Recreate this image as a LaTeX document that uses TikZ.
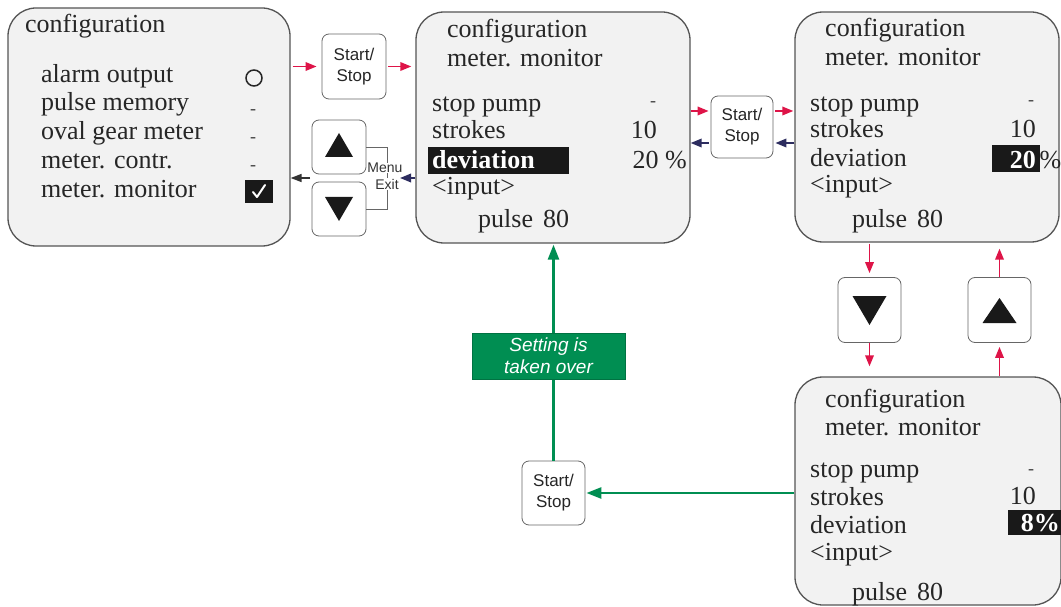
\documentclass[tikz,border=0pt]{standalone}
\usepackage{fontspec}
\setmainfont{Liberation Serif}
\setsansfont{Liberation Sans}
\usetikzlibrary{arrows.meta,calc}
\definecolor{crim}{RGB}{222,20,72}
\definecolor{navy}{RGB}{45,45,95}
\definecolor{grn}{RGB}{0,142,82}
\definecolor{scrfill}{RGB}{242,242,242}
\definecolor{scrline}{RGB}{85,85,85}
\newcommand{\lcdfont}{\rmfamily\fontsize{26}{29}\selectfont}
\newcommand{\keyfont}{\sffamily\fontsize{17}{21}\selectfont}
\tikzset{
  screen/.style={draw=scrline, fill=scrfill, line width=1.3pt, rounded corners=28pt, inner sep=0pt},
  keybox/.style={draw=black!60, fill=white, line width=0.8pt, rounded corners=7pt, inner sep=0pt, align=center, font=\keyfont, text=black!85},
  lcd/.style={anchor=base west, inner sep=0pt, font=\lcdfont, text=black!85},
  lcdr/.style={anchor=base east, inner sep=0pt, font=\lcdfont, text=black!85},
  dashmark/.style={anchor=center, inner sep=0pt, font=\rmfamily\fontsize{18}{18}\selectfont, text=black!75},
  hilite/.style={fill=black!90, inner sep=0pt, anchor=north west},
  redarr/.style={draw=crim, line width=1.8pt, -{Triangle[length=11pt,width=8.5pt]}},
  bluarr/.style={draw=navy, line width=1.8pt, -{Triangle[length=11pt,width=8.5pt]}},
  blkarr/.style={draw=black!80, line width=1.6pt, -{Triangle[length=11pt,width=8pt]}},
  grnarr/.style={draw=grn, line width=2.6pt, -{Triangle[length=15pt,width=11pt]}},
  smalltxt/.style={font=\sffamily\fontsize{14}{16}\selectfont, text=black!80, fill=white, inner sep=0.5pt}
}
\begin{document}
\begin{tikzpicture}[x=1pt,y=-1pt]
\useasboundingbox (0,0) rectangle (1061,607);
\clip (0,0) rectangle (1061,607);
\fill[white] (0,0) rectangle (1061,607);

% ---------- screens ----------
\node[screen, minimum width=282pt, minimum height=238pt] (s1) at (149,127) {};
\node[screen, minimum width=274pt, minimum height=231pt] (s2) at (553,127.5) {};
\node[screen, minimum width=264pt, minimum height=230pt] (s3) at (927,127) {};
\node[screen, minimum width=266pt, minimum height=228pt] (s4) at (928,491) {};

% ---------- keys ----------
\node[keybox, minimum width=64pt, minimum height=65pt] (b1) at (354,66.5) {Start/\\Stop};
\node[keybox, minimum width=54pt, minimum height=54pt] (bu1) at (339,147) {};
\node[keybox, minimum width=54pt, minimum height=54pt] (bd1) at (339,209) {};
\node[keybox, minimum width=62pt, minimum height=62pt] (b2) at (742,127) {Start/\\Stop};
\node[keybox, minimum width=63pt, minimum height=65pt] (bd2) at (869.5,310) {};
\node[keybox, minimum width=63pt, minimum height=65pt] (bu2) at (999.5,310) {};
\node[keybox, minimum width=63pt, minimum height=64pt] (b3) at (553.5,493) {Start/\\Stop};

% triangles
\fill[black!90] (bu1.center) ++(-14,10) -- ++(28,0) -- ++(-14,-24) -- cycle;
\fill[black!90] (bd1.center) ++(-14,-12) -- ++(28,0) -- ++(-14,24) -- cycle;
\fill[black!90] (bd2.center) ++(-17,-14) -- ++(34,0) -- ++(-17,29) -- cycle;
\fill[black!90] (bu2.center) ++(-17,13) -- ++(34,0) -- ++(-17,-25) -- cycle;

% ---------- screen 1 ----------
\node[lcd] (c1) at (25,33) {configuration};
\node[lcd] (a1) at (41,83) {alarm output};
\node[lcd] (a2) at (41,111) {pulse memory};
\node[lcd] (a3) at (41,140) {oval gear meter};
\node[lcd] (a4) at (41,168) {meter. contr.};
\node[lcd] (a5) at (41,197) {meter. monitor};
\draw[black!85, line width=1.5pt] (254,78) circle (8);
\node[dashmark] (d1) at (253,112) {-};
\node[dashmark] (d2) at (253,140) {-};
\node[dashmark] (d3) at (253,168) {-};
\node[fill=black!90, minimum width=28pt, minimum height=23pt, inner sep=0pt] (chk) at (259,191.5) {};
\draw[white, line width=2pt, line cap=round, line join=round] (253,192) -- (257,197) -- (265,185);

% ---------- screen 2 ----------
\node[lcd] (c2) at (447,38) {configuration};
\node[lcd] (m2) at (447,67) {meter. monitor};
\node[lcd] (p2) at (432,112) {stop pump};
\node[lcd] (k2) at (432,139) {strokes};
\node[hilite, minimum width=141pt, minimum height=27pt] (h2) at (428,147) {};
\node[lcd, text=white, font=\lcdfont\bfseries] (v2) at (432,168) {deviation};
\node[lcd] (i2) at (432,195) {<input>};
\node[lcd] (q2) at (478,228) {pulse\hspace{10pt}80};
\node[dashmark] (x2) at (653,104) {-};
\node[lcdr] (n2) at (657,139) {10};
\node[lcdr] (r2) at (687,168) {20 \%};

% ---------- screen 3 ----------
\node[lcd] (c3) at (825,37) {configuration};
\node[lcd] (m3) at (825,66) {meter. monitor};
\node[lcd] (p3) at (810,112) {stop pump};
\node[lcd] (k3) at (810,138) {strokes};
\node[lcd] (v3) at (810,167) {deviation};
\node[lcd] (i3) at (810,193) {<input>};
\node[lcd] (q3) at (852,227) {pulse\hspace{10pt}80};
\node[dashmark] (x3) at (1031,103) {-};
\node[lcdr] (n3) at (1036,138) {10};
\node[hilite, minimum width=48pt, minimum height=27pt] (h3) at (992,145) {};
\node[lcdr, text=white, font=\lcdfont\bfseries] (w3) at (1036,168) {20};
\node[lcd] (pc3) at (1039.5,168) {\%};

% ---------- screen 4 ----------
\node[lcd] (c4) at (825,407) {configuration};
\node[lcd] (m4) at (825,435) {meter. monitor};
\node[lcd] (p4) at (810,477) {stop pump};
\node[lcd] (k4) at (810,505) {strokes};
\node[lcd] (v4) at (810,533) {deviation};
\node[lcd] (i4) at (810,560) {<input>};
\node[lcd] (q4) at (852,600) {pulse\hspace{10pt}80};
\node[dashmark] (x4) at (1031,472) {-};
\node[lcdr] (n4) at (1036,504) {10};
\node[hilite, minimum width=55pt, minimum height=25pt] (h4) at (1008,510) {};
\node[lcdr, text=white, font=\lcdfont\bfseries] (w4) at (1060,531) {8\%};

% ---------- Menu/Exit bracket ----------
\coordinate (bt) at (387,147);
\coordinate (bb) at (387,209);
\draw[black!60, line width=0.8pt] (bu1.east) -- (bt) -- (bb) -- (bd1.east);
\node[smalltxt] (menu) at (385,168) {Menu};
\node[smalltxt] (exit) at (387,184) {Exit};

% ---------- arrows ----------
\draw[redarr] ([xshift=2pt]s1.east |- b1.west) -- ([xshift=-5pt]b1.west);
\draw[redarr] ([xshift=2pt]b1.east) -- ([xshift=-4pt]b1.east -| s2.west);
\coordinate (mx) at (400,178);
\draw[bluarr] (s2.west |- mx) -- (mx);
\coordinate (lx) at (310,178);
\draw[blkarr] (lx) -- (s1.east |- lx);

\coordinate (ry) at (0,111);
\coordinate (by) at (0,143);
\draw[redarr] (s2.east |- ry) -- ([xshift=-2pt]b2.west |- ry);
\draw[redarr] ([xshift=2pt]b2.east |- ry) -- ([xshift=-1pt]s3.west |- ry);
\draw[bluarr] ([xshift=-2pt]b2.west |- by) -- (s2.east |- by);
\draw[bluarr] (s3.west |- by) -- ([xshift=2pt]b2.east |- by);

\draw[redarr] ([yshift=-1pt]bd2.north |- s3.south) -- ([yshift=4pt]bd2.north);
\draw[redarr] (bd2.south) -- ([yshift=10pt]bd2.south |- s4.north);
\draw[redarr] (bu2.south |- s4.north) -- ([yshift=-4pt]bu2.south);
\draw[redarr] (bu2.north) -- ([yshift=-6pt]bu2.north |- s3.south);

\draw[grnarr] (s4.west |- b3.east) -- ([xshift=1pt]b3.east);
\draw[grnarr] (b3.north) -- ([yshift=-1pt]b3.north |- s2.south);
\node[fill=grn, draw=grn!80!black, line width=0.6pt, minimum width=153pt, minimum height=46pt, inner sep=0pt, align=center, text=white, font=\sffamily\itshape\fontsize{19}{22}\selectfont] (lbl) at (548.5,356) {Setting is\\taken over};
\end{tikzpicture}
\end{document}
